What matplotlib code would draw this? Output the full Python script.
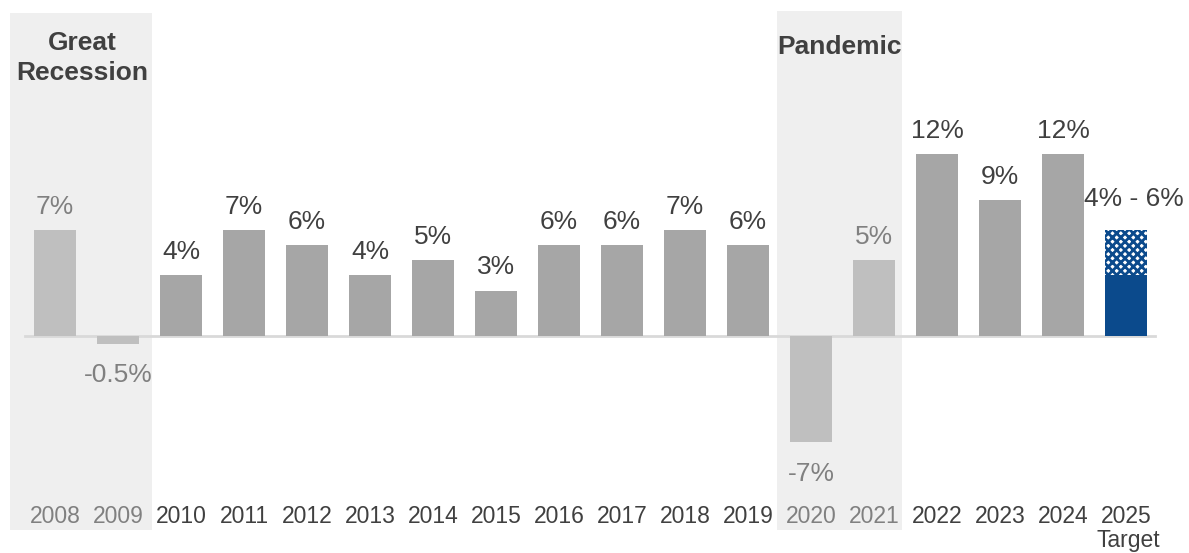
import numpy as np
import matplotlib
matplotlib.use("Agg")
from matplotlib import pyplot

pyplot.rcParams["font.family"] = ["Liberation Sans", "DejaVu Sans"]
pyplot.rcParams["hatch.linewidth"] = 2.0

# data
years = ["2008", "2009", "2010", "2011", "2012", "2013", "2014", "2015", "2016",
         "2017", "2018", "2019", "2020", "2021", "2022", "2023", "2024", "2025"]
growth = [7, -0.5, 4, 7, 6, 4, 5, 3, 6, 6, 7, 6, -7, 5, 12, 9, 12, 4]
labels = ["7%", "-0.5%", "4%", "7%", "6%", "4%", "5%", "3%", "6%", "6%", "7%",
          "6%", "-7%", "5%", "12%", "9%", "12%", "4% - 6%"]
target_range = 3  # hatched upper part of the 2025 target bar
shaded_years = ["2008", "2009", "2020", "2021"]

# colours
dark_text = "#404040"
light_text = "#808080"
bar_grey = "#a6a6a6"
bar_light = "#bfbfbf"
target_blue = "#0b4a8c"
shade_bg = "#efefef"

fig = pyplot.figure(figsize=(11.89, 5.53), dpi=100)
ax = fig.add_axes([0, 0, 1, 1])
ax.set_xlim(-0.873, 18.0)
ax.set_ylim(-14.32, 22.18)
ax.axis("off")

x = np.arange(len(years))

# shaded periods
ax.axvspan(-0.71, 1.54, ymin=0.042, ymax=0.977, color=shade_bg, zorder=0, lw=0)
ax.axvspan(11.46, 13.44, ymin=0.042, ymax=0.98, color=shade_bg, zorder=0, lw=0)

# bars
colors = []
for yr in years:
    colors.append(bar_light if yr in shaded_years else bar_grey)
colors[-1] = target_blue
ax.bar(x, growth, width=0.67, color=colors, zorder=2)
ax.bar(x[-1], target_range, bottom=growth[-1], width=0.67, color="white",
       edgecolor=target_blue, hatch="xxxx", lw=0, zorder=2)

# zero line
ax.plot([-0.476, 17.46], [0, 0], color="#d9d9d9", lw=2, zorder=1)

# value labels
for i, (v, lab, yr) in enumerate(zip(growth, labels, years)):
    c = light_text if yr in shaded_years else dark_text
    if i == len(years) - 1:
        ax.annotate(lab, (i, v + target_range), xytext=(6, 14), textcoords="offset points",
                    ha="center", va="bottom", fontsize=19, color=c)
    elif v >= 0:
        ax.annotate(lab, (i, v), xytext=(0, 8), textcoords="offset points",
                    ha="center", va="bottom", fontsize=19, color=c)
    else:
        ax.annotate(lab, (i, v), xytext=(0, -14), textcoords="offset points",
                    ha="center", va="top", fontsize=19, color=c)

# year labels
for i, yr in enumerate(years):
    c = light_text if yr in shaded_years else dark_text
    ax.text(i, -11.9, yr, ha="center", va="center", fontsize=16.5, color=c)
ax.text(x[-1] + 0.03, -13.5, "Target", ha="center", va="center", fontsize=16.5, color=dark_text)

# period titles
ax.text(0.43, 18.35, "Great\nRecession", ha="center", va="center", fontsize=19,
        fontweight="bold", color=dark_text, linespacing=1.35)
ax.text(12.45, 19.05, "Pandemic", ha="center", va="center", fontsize=19,
        fontweight="bold", color=dark_text)

fig.savefig("out.png", dpi=100)
